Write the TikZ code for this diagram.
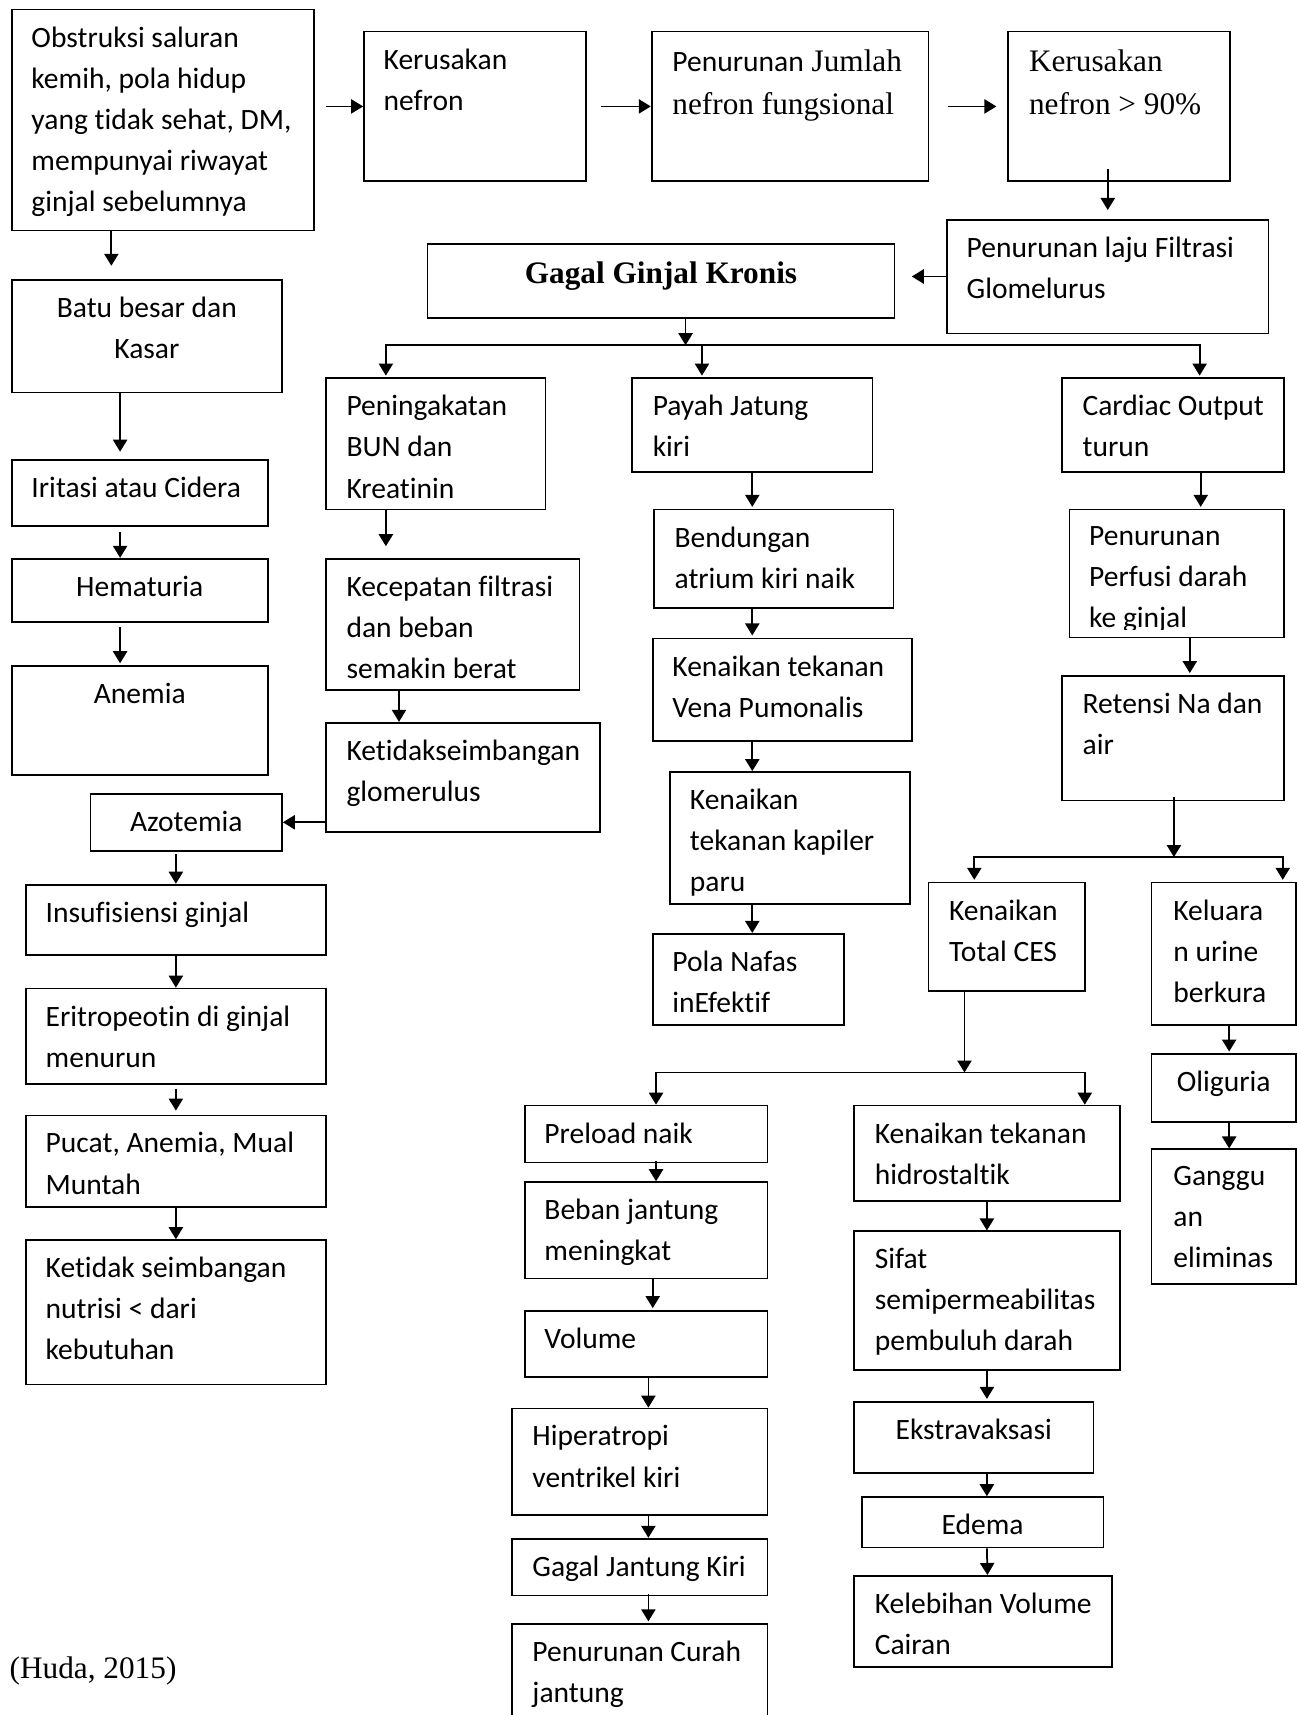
\documentclass[tikz,border=0pt]{standalone}
\usepackage{fontspec}
\setmainfont{Liberation Serif}
\newfontfamily\calibri[RawFeature={-liga;-clig;-calt;-rlig;-dlig}]{Carlito}
\usepackage{tikz}
\usetikzlibrary{arrows.meta,positioning}

\newcommand{\flowfont}{\calibri\fontsize{13.5pt}{18.8pt}\selectfont}
\newcommand{\timesfont}{\rmfamily\fontsize{14.3pt}{19.5pt}\selectfont}

\tikzset{
    box/.style={draw, anchor=north west, inner sep=0pt},
    txt/.style={font=\flowfont, align=left, inner sep=0pt},
    stxt/.style={txt, font=\timesfont},
}

\begin{document}
\begin{tikzpicture}[x=0.5pt,y=-0.5pt,thick,
    >={Triangle[length=5.5pt,width=6.5pt]}]

\useasboundingbox (0,0) rectangle (1185,1568);

% Penyebab
\node[box, minimum width=138pt, minimum height=101pt] (obs) at (10,8) {};
\node[txt, below right=7.8pt and 9pt of obs.north west] (obs-t)
    {Obstruksi saluran\\kemih, pola hidup\\yang tidak sehat, DM,\\mempunyai riwayat\\ginjal sebelumnya};

% Baris atas
\node[box, minimum width=101.5pt, minimum height=68.5pt] (nefron) at (332,28) {};
\node[txt, below right=7.8pt and 9pt of nefron.north west] (nefron-t) {Kerusakan\\nefron};

\node[box, minimum width=126.5pt, minimum height=68.5pt] (jumlah) at (595,28) {};
\node[stxt, below right=8.3pt and 9.5pt of jumlah.north west] (jumlah-t)
    {{\flowfont Penurunan} Jumlah\\nefron fungsional};

\node[box, minimum width=101.5pt, minimum height=68.5pt] (ninety) at (921,28) {};
\node[stxt, below right=8.3pt and 9.5pt of ninety.north west] (ninety-t) {Kerusakan\\nefron > 90\%};

\node[box, minimum width=147pt, minimum height=52pt] (gfr) at (865,200) {};
\node[txt, below right=7.8pt and 9pt of gfr.north west] (gfr-t) {Penurunan laju Filtrasi\\Glomelurus};

% Gagal Ginjal Kronis
\node[box, minimum width=213.5pt, minimum height=34pt] (ggk) at (390,222) {};
\node[stxt, font=\timesfont\bfseries, align=center, below=8.1pt of ggk.north] (ggk-t) {Gagal Ginjal Kronis};

% Kolom kiri
\node[box, minimum width=123.5pt, minimum height=51.5pt] (batu) at (10,255) {};
\node[txt, align=center, below=7.8pt of batu.north] (batu-t) {Batu besar dan\\Kasar};

\node[box, minimum width=117pt, minimum height=30pt] (iritasi) at (10,420) {};
\node[txt, below right=7.8pt and 9pt of iritasi.north west] (iritasi-t) {Iritasi atau Cidera};

\node[box, minimum width=117pt, minimum height=29pt] (hematuria) at (10,510) {};
\node[txt, align=center, below=7.8pt of hematuria.north] (hematuria-t) {Hematuria};

\node[box, minimum width=117pt, minimum height=50pt] (anemia) at (10,608) {};
\node[txt, align=center, below=7.8pt of anemia.north] (anemia-t) {Anemia};

\node[box, minimum width=87.5pt, minimum height=26pt] (azotemia) at (82,725) {};
\node[txt, align=center, below=7.8pt of azotemia.north] (azotemia-t) {Azotemia};

\node[box, minimum width=137pt, minimum height=32pt] (insuf) at (23,808) {};
\node[txt, below right=7.8pt and 9pt of insuf.north west] (insuf-t) {Insufisiensi ginjal};

\node[box, minimum width=137pt, minimum height=43.5pt] (eritro) at (23,903) {};
\node[txt, below right=7.8pt and 9pt of eritro.north west] (eritro-t) {Eritropeotin di ginjal\\menurun};

\node[box, minimum width=137pt, minimum height=42pt] (pucat) at (23,1019) {};
\node[txt, below right=7.8pt and 9pt of pucat.north west] (pucat-t) {Pucat, Anemia, Mual\\Muntah};

\node[box, minimum width=137pt, minimum height=66pt] (nutrisi) at (23,1133) {};
\node[txt, below right=7.8pt and 9pt of nutrisi.north west] (nutrisi-t) {Ketidak seimbangan\\nutrisi < dari\\kebutuhan};

% Cabang BUN
\node[box, minimum width=100.5pt, minimum height=60pt] (bun) at (297,345) {};
\node[txt, below right=7.8pt and 9.5pt of bun.north west] (bun-t) {Peningakatan\\BUN dan\\Kreatinin};

\node[box, minimum width=116pt, minimum height=60pt] (kecep) at (297,510) {};
\node[txt, below right=7.8pt and 9.5pt of kecep.north west] (kecep-t) {Kecepatan filtrasi\\dan beban\\semakin berat};

\node[box, minimum width=125.5pt, minimum height=50pt] (glom) at (297,660) {};
\node[txt, below right=7.8pt and 9.5pt of glom.north west] (glom-t) {Ketidakseimbangan\\glomerulus};

% Cabang payah jantung
\node[box, minimum width=110pt, minimum height=43pt] (payah) at (577,345) {};
\node[txt, below right=7.8pt and 9.5pt of payah.north west] (payah-t) {Payah Jatung\\kiri};

\node[box, minimum width=109.5pt, minimum height=45pt] (bendungan) at (597,465) {};
\node[txt, below right=7.8pt and 9.5pt of bendungan.north west] (bendungan-t) {Bendungan\\atrium kiri naik};

\node[box, minimum width=118.5pt, minimum height=47pt] (vena) at (596,583) {};
\node[txt, below right=7.8pt and 9pt of vena.north west] (vena-t) {Kenaikan tekanan\\Vena Pumonalis};

\node[box, minimum width=109.5pt, minimum height=60.5pt] (kapiler) at (612,705) {};
\node[txt, below right=7.8pt and 9pt of kapiler.north west] (kapiler-t) {Kenaikan\\tekanan kapiler\\paru};

\node[box, minimum width=87.5pt, minimum height=41.5pt] (pola) at (596,853) {};
\node[txt, below right=7.8pt and 9pt of pola.north west] (pola-t) {Pola Nafas\\inEfektif};

% Cabang cardiac output
\node[box, minimum width=101.5pt, minimum height=43pt] (cardiac) at (970,345) {};
\node[txt, below right=7.8pt and 9.5pt of cardiac.north west] (cardiac-t) {Cardiac Output\\turun};

\node[box, minimum width=98pt, minimum height=58.5pt] (perfusi) at (977,465) {};
\begin{scope}
\clip (perfusi.north west) rectangle ([yshift=4pt]perfusi.south east);
\node[txt, below right=7.8pt and 9pt of perfusi.north west] (perfusi-t) {Penurunan\\Perfusi darah\\ke ginjal};
\end{scope}

\node[box, minimum width=101.5pt, minimum height=57pt] (retensi) at (970,617) {};
\node[txt, below right=7.8pt and 9.5pt of retensi.north west] (retensi-t) {Retensi Na dan\\air};

\node[box, minimum width=71.5pt, minimum height=49.5pt] (ces) at (848,806) {};
\node[txt, below right=7.8pt and 9.5pt of ces.north west] (ces-t) {Kenaikan\\Total CES};

\node[box, minimum width=66pt, minimum height=65pt] (keluaran) at (1052,806) {};
\node[txt, below right=7.8pt and 10pt of keluaran.north west] (keluaran-t) {Keluara\\n urine\\berkura};

\node[box, minimum width=66pt, minimum height=31pt] (oliguria) at (1052,963) {};
\node[txt, align=center, below=7.8pt of oliguria.north] (oliguria-t) {Oliguria};

\node[box, minimum width=66pt, minimum height=61.5pt] (gangguan) at (1052,1050) {};
\node[txt, below right=7.8pt and 10pt of gangguan.north west] (gangguan-t) {Ganggu\\an\\eliminas};

% Cabang preload
\node[box, minimum width=111pt, minimum height=26pt] (preload) at (479,1010) {};
\node[txt, below right=7.8pt and 9pt of preload.north west] (preload-t) {Preload naik};

\node[box, minimum width=111pt, minimum height=44pt] (beban) at (479,1080) {};
\node[txt, below right=7.8pt and 9pt of beban.north west] (beban-t) {Beban jantung\\meningkat};

\node[box, minimum width=111pt, minimum height=30pt] (volume) at (479,1198) {};
\node[txt, below right=7.8pt and 9pt of volume.north west] (volume-t) {Volume};

\node[box, minimum width=117pt, minimum height=48.5pt] (hiper) at (467,1287) {};
\node[txt, below right=7.8pt and 9.5pt of hiper.north west] (hiper-t) {Hiperatropi\\ventrikel kiri};

\node[box, minimum width=117pt, minimum height=26pt] (gjk) at (467,1406) {};
\node[txt, below right=7.8pt and 9.5pt of gjk.north west] (gjk-t) {Gagal Jantung Kiri};

\node[box, minimum width=117pt, minimum height=45pt] (curah) at (467,1484) {};
\node[txt, below right=7.8pt and 9.5pt of curah.north west] (curah-t) {Penurunan Curah\\jantung};

% Cabang tekanan hidrostatik
\node[box, minimum width=121.5pt, minimum height=43.5pt] (hidro) at (780,1010) {};
\node[txt, below right=7.8pt and 9.5pt of hidro.north west] (hidro-t) {Kenaikan tekanan\\hidrostaltik};

\node[box, minimum width=121.5pt, minimum height=63.5pt] (sifat) at (780,1125) {};
\node[txt, below right=7.8pt and 9.5pt of sifat.north west] (sifat-t) {Sifat\\semipermeabilitas\\pembuluh darah};

\node[box, minimum width=109.5pt, minimum height=32.5pt] (ekstra) at (780,1281) {};
\node[txt, align=center, below=7.8pt of ekstra.north] (ekstra-t) {Ekstravaksasi};

\node[box, minimum width=110.5pt, minimum height=23pt] (edema) at (787,1368) {};
\node[txt, align=center, below=7.8pt of edema.north] (edema-t) {Edema};

\node[box, minimum width=118pt, minimum height=41.5pt] (kelebihan) at (780,1440) {};
\node[txt, below right=7.8pt and 9.5pt of kelebihan.north west] (kelebihan-t) {Kelebihan Volume\\Cairan};

% Sumber
\node[stxt, anchor=base west] (src) at (8,1535) {(Huda, 2015)};

% Titik cabang
\node[coordinate] (bar1) at ([xshift=11.25pt,yshift=-12pt]ggk.south) {};
\node[coordinate] (bar2) at ([xshift=0.5pt,yshift=-25.5pt]retensi.south) {};
\node[coordinate] (bar3) at ([xshift=-19.25pt,yshift=-37pt]ces.south) {};

% Panah baris atas
\draw[->, shorten <=5pt] (obs.east |- nefron.west) -- (nefron.west);
\draw[->, shorten <=6.5pt] (nefron.east) -- (jumlah.west);
\draw[->, shorten <=8.5pt, shorten >=5pt] (jumlah.east) -- (ninety.west);
\draw[->, shorten <=-6pt, shorten >=4pt] (ninety.south -| gfr.north) -- (gfr.north);
\draw[->, shorten >=7.5pt] (gfr.west) -- (gfr.west -| ggk.east);

% Panah kolom kiri
\draw[->, shorten >=6pt] ([xshift=-23.5pt]obs.south) -- ([xshift=-16.25pt]batu.north);
\draw[->, shorten >=3.5pt] ([xshift=-12.25pt]batu.south) -- ([xshift=-9pt]iritasi.north);
\draw[->, shorten <=2.3pt] ([xshift=-9pt]iritasi.south) -- ([xshift=-9pt]hematuria.north);
\draw[->, shorten <=1.8pt, shorten >=0.8pt] ([xshift=-9pt]hematuria.south) -- ([xshift=-9pt]anemia.north);
\draw[->] (glom.west |- azotemia.east) -- (azotemia.east);
\draw[->, shorten <=1pt] ([xshift=-4.75pt]azotemia.south) -- (insuf.north);
\draw[->] (insuf.south) -- (eritro.north);
\draw[->, shorten <=1.8pt, shorten >=1.8pt] (eritro.south) -- (pucat.north);
\draw[->] (pucat.south) -- (nutrisi.north);

% Panah dari Gagal Ginjal Kronis
\draw[->] (ggk.south -| bar1) -- (bar1);
\draw[->, shorten >=0.8pt] (bar1) -| ([xshift=-22.75pt]bun.north);
\draw[->, shorten >=0.8pt] (bar1) -| ([xshift=-23pt]payah.north);
\draw[->, shorten >=0.8pt] (bar1) -| ([xshift=12.25pt]cardiac.north);

% Panah cabang BUN
\draw[->, shorten >=5.3pt] ([xshift=-22.75pt]bun.south) -- ([xshift=-30.5pt]kecep.north);
\draw[->] ([xshift=-24.5pt]kecep.south) -- ([xshift=-29.25pt]glom.north);

% Panah cabang payah jantung
\draw[->, shorten >=0.8pt] (payah.south) -- ([xshift=-9.75pt]bendungan.north);
\draw[->, shorten >=1pt] ([xshift=-9.75pt]bendungan.south) -- ([xshift=-13.75pt]vena.north);
\draw[->] ([xshift=-13.75pt]vena.south) -- ([xshift=-17.25pt]kapiler.north);
\draw[->] ([xshift=-17.25pt]kapiler.south) -- ([xshift=1.75pt]pola.north);

% Panah cabang cardiac output
\draw[->, shorten >=0.8pt] ([xshift=12.75pt]cardiac.south) -- ([xshift=11pt]perfusi.north);
\draw[->, shorten <=-0.8pt, shorten >=0.8pt] ([xshift=6pt]perfusi.south) -- ([xshift=7.75pt]retensi.north);
\draw[->, shorten <=-1.8pt] ([xshift=0.5pt]retensi.south) -- (bar2);
\draw[->, shorten >=0.8pt] (bar2) -| ([xshift=-14.75pt]ces.north);
\draw[->, shorten >=0.8pt] (bar2) -| ([xshift=27pt]keluaran.north);
\draw[->, shorten >=0.8pt] ([xshift=2.5pt]keluaran.south) -- ([xshift=2.5pt]oliguria.north);
\draw[->] ([xshift=2.5pt]oliguria.south) -- ([xshift=2.5pt]gangguan.north);

% Panah dari Total CES
\draw[->] ([xshift=-19.25pt]ces.south) -- (bar3);
\draw[->] (bar3) -| ([xshift=4.5pt]preload.north);
\draw[->] (bar3) -| ([xshift=44.75pt]hidro.north);

% Panah cabang preload
\draw[->, shorten <=-1pt] ([xshift=4.5pt]preload.south) -- ([xshift=4.5pt]beban.north);
\draw[->, shorten >=1pt] ([xshift=3pt]beban.south) -- ([xshift=3pt]volume.north);
\draw[->] ([xshift=1pt]volume.south) -- ([xshift=4pt]hiper.north);
\draw[->] ([xshift=4pt]hiper.south) -- ([xshift=4pt]gjk.north);
\draw[->, shorten <=-1pt, shorten >=0.8pt] ([xshift=4pt]gjk.south) -- ([xshift=4pt]curah.north);

% Panah cabang hidrostatik
\draw[->] (hidro.south) -- (sifat.north);
\draw[->, shorten >=1pt] (sifat.south) -- ([xshift=6pt]ekstra.north);
\draw[->] ([xshift=6pt]ekstra.south) -- ([xshift=2pt]edema.north);
\draw[->] ([xshift=2pt]edema.south) -- ([xshift=2pt]kelebihan.north);

\end{tikzpicture}
\end{document}
